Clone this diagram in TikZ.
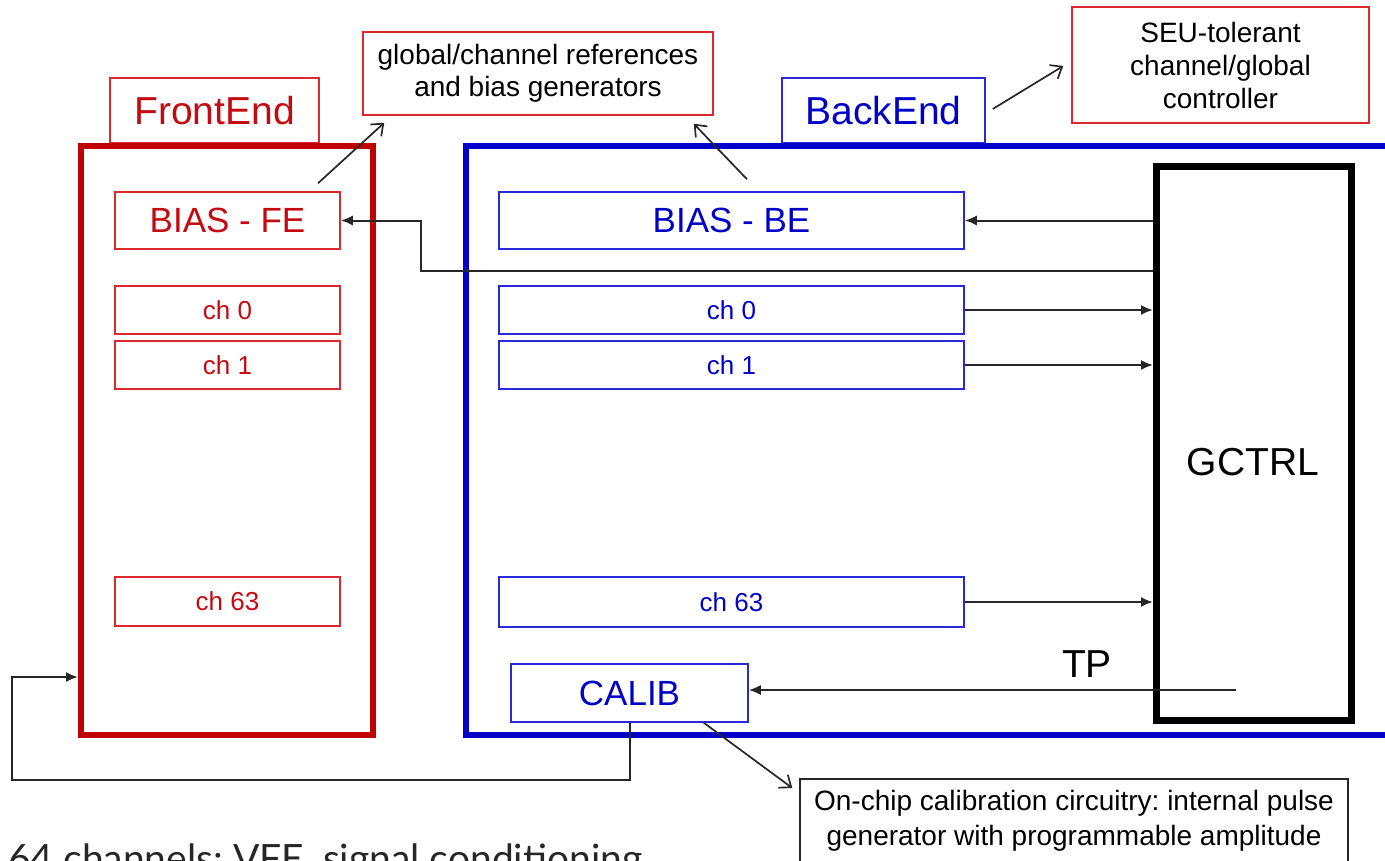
\documentclass[tikz,border=0pt]{standalone}
\usepackage{fontspec}
\setmainfont{Liberation Sans}
\newfontfamily\capfont{Lato}
\usetikzlibrary{arrows.meta,calc}
\frenchspacing
\definecolor{fetext}{RGB}{196,10,16}
\definecolor{feline}{RGB}{222,40,46}
\definecolor{feframe}{RGB}{192,0,0}
\definecolor{betext}{RGB}{0,0,200}
\definecolor{beline}{RGB}{40,40,220}
\definecolor{beframe}{RGB}{0,0,200}
\newcommand{\fsz}[2]{\fontsize{#1}{#2}\selectfont}
\tikzset{
  febox/.style={draw=feline, line width=1.5pt, text=fetext, inner sep=0pt},
  bebox/.style={draw=beline, line width=1.5pt, text=betext, inner sep=0pt},
  notebox/.style={line width=1.5pt, text=black, inner sep=0pt, align=center},
  conn/.style={line width=2pt, draw=black!85, -{Latex[length=12pt,width=10pt]}},
  annot/.style={line width=1.7pt, draw=black!85, -{Straight Barb[length=10pt,width=16pt,line width=1.7pt]}},
  bigtxt/.style={font=\fsz{39}{44}},
  midtxt/.style={font=\fsz{35}{40}},
  chtxt/.style={font=\fsz{26}{30}},
  smalltxt/.style={font=\fsz{28}{32.5}}
}
\begin{document}
\begin{tikzpicture}[x=1pt,y=-1pt]
\useasboundingbox (0,0) rectangle (1385,860);
\clip (0,0) rectangle (1385,860);
% labels of the two blocks
\node[febox, bigtxt, minimum width=209, minimum height=65] (felab) at (214.5,110.5) {FrontEnd};
\node[bebox, bigtxt, minimum width=203, minimum height=65] (belab) at (883.5,110.5) {BackEnd};
% frames
\node[draw=feframe, line width=6pt, minimum width=292, minimum height=589, inner sep=0pt] (fe) at (227,440.5) {};
\node[draw=beframe, line width=6pt, minimum width=960, minimum height=589, inner sep=0pt, anchor=west] (be) at (463,440.5) {};
% note boxes
\node[notebox, draw=feline, smalltxt, minimum width=350, minimum height=83] (glob) at (538,73.5) {global/channel references\\and bias generators};
\node[notebox, draw=feline, font=\fsz{28}{33}, minimum width=297, minimum height=116] (seu) at (1220.5,65) {SEU-tolerant\\channel/global\\controller};
\node[notebox, draw=black!85, font=\fsz{28}{35}, minimum width=548, inner ysep=11.5pt, anchor=north] (onchip) at (1074,778) {On-chip calibration circuitry: internal pulse\\generator with programmable amplitude};
% front end boxes
\node[febox, midtxt, minimum width=225, minimum height=57] (bfe) at (227.5,220.5) {BIAS - FE};
\node[febox, chtxt, minimum width=225, minimum height=48] (fc0) at (227.5,310) {ch 0};
\node[febox, chtxt, minimum width=225, minimum height=48] (fc1) at (227.5,365) {ch 1};
\node[febox, chtxt, minimum width=225, minimum height=49] (fc63) at (227.5,601.5) {ch 63};
% back end boxes
\node[bebox, midtxt, minimum width=465, minimum height=57] (bbe) at (731.5,220.5) {BIAS - BE};
\node[bebox, chtxt, minimum width=465, minimum height=48] (bc0) at (731.5,310) {ch 0};
\node[bebox, chtxt, minimum width=465, minimum height=48] (bc1) at (731.5,365) {ch 1};
\node[bebox, chtxt, minimum width=465, minimum height=50] (bc63) at (731.5,602) {ch 63};
\node[bebox, midtxt, minimum width=237, minimum height=58] (calib) at (629.5,693) {CALIB};
% controller
\node[draw=black, line width=7pt, minimum width=195, minimum height=554, inner sep=0pt] (gctrl) at (1254,443.5) {};
\node[bigtxt, inner sep=0pt] (gtxt) at (1253,462) {GCTRL};
\node[font=\fsz{39}{44}, inner sep=0pt] (tp) at (1087,664) {TP};
% connectors
\draw[conn] (gctrl.west |- bbe.east) -- (bbe.east);
\coordinate (j1) at (421,271);
\draw[conn] (j1 -| gctrl.west) -- (j1) |- (bfe.east);
\draw[conn] (bc0.east) -- (bc0.east -| gctrl.west);
\draw[conn] (bc1.east) -- (bc1.east -| gctrl.west);
\draw[conn] (bc63.east) -- (bc63.east -| gctrl.west);
\coordinate (tp0) at (1236,690);
\draw[conn] (tp0) -- (tp0 -| calib.east);
\coordinate (c1) at (12,780);
\coordinate (c2) at (12,677);
\draw[conn] (calib.south) |- (c1) -- (c2) -- (c2 -| fe.west);
% annotation arrows
\draw[annot] ([shift={(90.5,-8)}]bfe.north) -- ([shift={(22,7)}]glob.south west);
\draw[annot] ([shift={(15.5,-12)}]bbe.north) -- ([shift={(-20,8)}]glob.south east);
\draw[annot] ([shift={(7,-1.5)}]belab.east) -- ([shift={(-8,1)}]seu.west);
\draw[annot] ([shift={(-45,0)}]calib.south east) -- ([shift={(-7,10)}]onchip.north west);
% caption (cut by the lower edge, as in the reference)
\node[font=\capfont\fsz{39}{44}, text=black!85, anchor=base west, inner sep=0pt] (cap) at (8,872) {64 channels: VFE, signal conditioning};
\end{tikzpicture}
\end{document}
